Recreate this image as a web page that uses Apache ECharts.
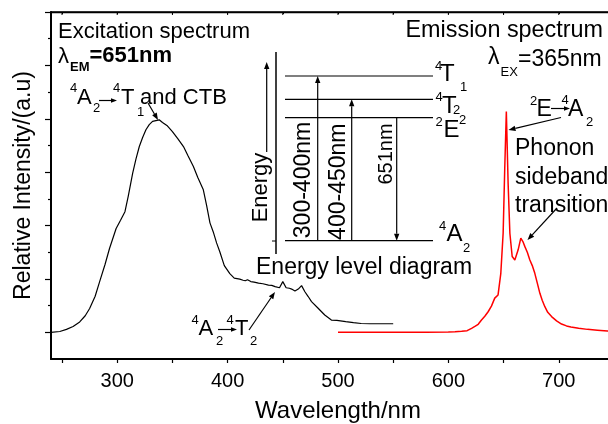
<!DOCTYPE html>
<html>
<head>
<meta charset="utf-8">
<script src="https://cdn.jsdelivr.net/npm/echarts@6/dist/echarts.min.js"></script>
<style>
html,body{margin:0;padding:0;background:#fff;}
#main{width:608px;height:424px;}
</style>
</head>
<body>
<div id="main"></div>
<script>
// excitation spectrum (lambda_EM = 651 nm)
var exWave = [240,248,254,260,266,271,275,280,284,289,293,299,303,307,310,314,317,320,323,326,329,332,335,338,341,345,350,355,360,364,369,373,378,381,384,387,390,393,397,402,406,411,414,416,418,419,421,424,428,432,437,440,443,447,450,453,456,458,461,464,467,470,473,476,482,488,494,499,507,514,521,529,540,550];
var exInt  = [1.00,1.03,1.11,1.22,1.39,1.62,1.89,2.35,2.89,3.55,4.14,4.89,5.20,5.52,6.10,6.96,7.50,7.96,8.30,8.59,8.78,8.90,8.93,8.96,8.86,8.75,8.52,8.25,7.96,7.62,7.21,6.80,6.34,5.75,5.10,4.76,4.35,4.01,3.50,3.20,3.03,2.99,2.95,2.93,2.97,3.02,2.90,2.88,2.84,2.82,2.77,2.76,2.71,2.67,2.90,2.67,2.65,2.62,2.55,2.62,2.75,2.52,2.34,2.15,1.90,1.65,1.46,1.45,1.40,1.36,1.33,1.32,1.32,1.32];

// emission spectrum (lambda_EX = 365 nm)
var emWave = [500,520,540,560,580,600,606,612,617,621,624,627,630,633,636,639,642,645,647.5,649.6,651.1,652.5,654.1,655.7,657.8,660.2,663.2,665.6,667.5,669.3,671.5,673.8,676,678.3,680.5,682.9,685,687.4,690,693.5,698,702.5,707,711,718,726,735,744,760];
var emInt  = [1.00,1.00,1.00,1.00,1.00,1.01,1.02,1.04,1.06,1.15,1.22,1.30,1.46,1.60,1.77,1.98,2.28,2.40,3.21,4.71,7.21,9.27,6.59,4.71,3.84,3.71,4.09,4.53,4.40,4.21,4.00,3.71,3.50,3.21,2.85,2.46,2.20,1.96,1.75,1.59,1.43,1.31,1.24,1.20,1.15,1.11,1.08,1.05,1.03];

var xTicks = [250,300,350,400,450,500,550,600,650,700,750];
var xLabels = [300,400,500,600,700];
var yMajor = [1,3,5,7,9,11,13];
var yMinor = [2,4,6,8,10,12];
var xMin = 240, xMax = 760, yMin = 0, yMax = 13;

var FONT = '"Liberation Sans", Arial, sans-serif';

function pairs(xs, ys) {
    var out = [];
    for (var i = 0; i < xs.length; i++) out.push([xs[i], ys[i]]);
    return out;
}

function txt(x, y, s, size, opt) {
    opt = opt || {};
    return {
        type: 'text',
        x: x, y: y,
        rotation: opt.rot || 0,
        silent: true,
        z: 100,
        style: {
            text: s,
            font: (opt.bold ? 'bold ' : '') + size + 'px ' + FONT,
            fill: opt.color || '#000',
            textAlign: opt.align || 'left',
            textVerticalAlign: 'middle'
        }
    };
}

// straight line with a filled head at (x2,y2)
function arrow(x1, y1, x2, y2, head, w) {
    head = head || 7;
    var dx = x2 - x1, dy = y2 - y1, len = Math.sqrt(dx * dx + dy * dy);
    var ux = dx / len, uy = dy / len;
    var bx = x2 - ux * head, by = y2 - uy * head;
    var hw = head * 0.38;
    return [{
        type: 'line', silent: true, z: 100,
        shape: {x1: x1, y1: y1, x2: bx, y2: by},
        style: {stroke: '#000', lineWidth: w || 1.2}
    }, {
        type: 'polygon', silent: true, z: 100,
        shape: {points: [[x2, y2], [bx - uy * hw, by + ux * hw], [bx + uy * hw, by - ux * hw]]},
        style: {fill: '#000'}
    }];
}

function seg(x1, y1, x2, y2, w) {
    return {type: 'line', silent: true, z: 100, shape: {x1: x1, y1: y1, x2: x2, y2: y2}, style: {stroke: '#000', lineWidth: w || 1.2}};
}
function hline(x1, x2, y, w) {
    return seg(x1, y, x2, y, w);
}

var g = [];
// left annotations
g.push(txt(58, 31.5, 'Excitation spectrum', 22));
g.push(txt(58, 57, 'λ', 22));
g.push(txt(70, 67, 'EM', 13, {bold: true}));
g.push(txt(89.5, 56, '=651nm', 22, {bold: true}));

g.push(txt(70, 88, '4', 13));
g.push(txt(77, 98, 'A', 22));
g.push(txt(93, 108.5, '2', 13));
g = g.concat(arrow(99, 100.5, 117, 100.5, 6, 1.2));
g.push(txt(113, 88, '4', 13));
g.push(txt(121, 98, 'T', 22));
g.push(txt(137, 112, '1', 13));
g.push(txt(140, 98, 'and CTB', 22));
g = g.concat(arrow(148, 103, 158, 120, 7));

g.push(txt(191.5, 320, '4', 13));
g.push(txt(198.5, 329, 'A', 22));
g.push(txt(216, 341, '2', 13));
g = g.concat(arrow(218, 329.5, 237, 329.5, 6, 1.2));
g.push(txt(226.5, 320, '4', 13));
g.push(txt(235, 329, 'T', 22));
g.push(txt(250, 341, '2', 13));
g = g.concat(arrow(249, 330, 275, 292, 7));

// energy level diagram
g.push(seg(276, 52, 276, 254, 1.5));
g.push(hline(272, 276, 241, 1));
g = g.concat(arrow(266.7, 152, 266.7, 62, 7));
g.push(txt(261, 187.5, 'Energy', 22, {rot: Math.PI / 2, align: 'center'}));
g.push(hline(285, 433, 76));
g.push(hline(285, 433, 99.3));
g.push(hline(285, 433, 117.7));
g.push(hline(285, 433, 240.7));
g = g.concat(arrow(317.7, 240.7, 317.7, 76, 7));
g = g.concat(arrow(351.7, 240.7, 351.7, 99.3, 7));
g = g.concat(arrow(396.7, 117.7, 396.7, 240.7, 7));
g.push(txt(304, 180, '300-400nm', 23, {rot: Math.PI / 2, align: 'center'}));
g.push(txt(338.7, 181.7, '400-450nm', 23, {rot: Math.PI / 2, align: 'center'}));
g.push(txt(386, 154, '651nm', 20, {rot: Math.PI / 2, align: 'center'}));

g.push(txt(435, 66, '4', 13));
g.push(txt(440, 74, 'T', 24));
g.push(txt(460, 87.5, '1', 13));
g.push(txt(435.5, 97.5, '4', 13));
g.push(txt(442, 106, 'T', 24));
g.push(txt(453, 110, '2', 13));
g.push(txt(435.5, 122.5, '2', 13));
g.push(txt(443.5, 130, 'E', 24));
g.push(txt(459, 120, '2', 13));
g.push(txt(439, 226, '4', 13));
g.push(txt(446.5, 234.5, 'A', 24));
g.push(txt(463, 248, '2', 13));
g.push(txt(256, 268, 'Energy level diagram', 23));

// right annotations
g.push(txt(405.5, 30.5, 'Emission spectrum', 23.4));
g.push(txt(488, 58, 'λ', 23));
g.push(txt(500.5, 72, 'EX', 13));
g.push(txt(518, 59.5, '=365nm', 23));

g.push(txt(530, 101, '2', 13));
g.push(txt(536.5, 110, 'E', 23));
g = g.concat(arrow(551, 108.5, 570, 108.5, 6, 1.2));
g.push(txt(561.5, 100, '4', 13));
g.push(txt(568, 110, 'A', 23));
g.push(txt(586, 122.5, '2', 13));
g = g.concat(arrow(561, 117.5, 508.5, 130, 7));
g.push(txt(515, 149, 'Phonon', 23));
g.push(txt(515, 177.5, 'sideband', 23));
g.push(txt(515, 206, 'transition', 23));
g = g.concat(arrow(557, 208, 527.5, 240, 7));

// top frame of the plot box on its own layer (grid top = 12, left = 51, 574 px for 520 nm)
var GL = 51, GT = 12.5, GW = 574;
var frame = [seg(GL - 1, GT, 608, GT, 1.5)];
xTicks.forEach(function (v) {
    var px = GL + (v - xMin) / (xMax - xMin) * GW;
    frame.push(seg(px, GT, px, GT + 2.5, 1));
});
frame.forEach(function (el) { el.zlevel = 10; el.z = 200; });
g = g.concat(frame);

var myChart = echarts.init(document.getElementById('main'), null, {renderer: 'canvas'});
myChart.setOption({
    animation: false,
    grid: {left: 51, right: -17, top: 12, bottom: 65, outerBoundsMode: 'none'},
    xAxis: [{
        type: 'value', min: xMin, max: xMax, position: 'bottom',
        name: 'Wavelength/nm', nameLocation: 'middle', nameGap: 40,
        nameTextStyle: {fontFamily: FONT, fontSize: 24, color: '#000'},
        axisLine: {lineStyle: {color: '#000', width: 2}},
        axisTick: {show: true, inside: false, length: 4, customValues: xTicks, lineStyle: {color: '#000', width: 1.2}},
        axisLabel: {customValues: xLabels, margin: 12, fontFamily: FONT, fontSize: 20, color: '#000'},
        splitLine: {show: false}
    }, {
        type: 'value', min: xMin, max: xMax, position: 'top', splitNumber: 10,
        axisLine: {show: true, onZero: false, lineStyle: {color: '#000', width: 1.5}},
        axisTick: {show: true, inside: true, length: 2, lineStyle: {color: '#000', width: 1}},
        axisLabel: {show: false},
        splitLine: {show: false}
    }],
    yAxis: [{
        type: 'value', min: yMin, max: yMax, position: 'left',
        name: 'Relative Intensity/(a.u)', nameLocation: 'middle', nameGap: 16,
        nameTextStyle: {fontFamily: FONT, fontSize: 23, color: '#000'},
        axisLine: {onZero: false, lineStyle: {color: '#000', width: 2}},
        axisTick: {show: true, inside: false, length: 6, customValues: yMajor, lineStyle: {color: '#000', width: 1.2}},
        axisLabel: {show: false},
        splitLine: {show: false}
    }, {
        type: 'value', min: yMin, max: yMax, position: 'left',
        axisLine: {show: false},
        axisTick: {show: true, inside: false, length: 3, customValues: yMinor, lineStyle: {color: '#000', width: 1.2}},
        axisLabel: {show: false},
        splitLine: {show: false}
    }],
    series: [{
        name: 'Excitation', type: 'line', showSymbol: false,
        data: pairs(exWave, exInt),
        lineStyle: {color: '#000', width: 1.2}
    }, {
        name: 'Emission', type: 'line', showSymbol: false,
        data: pairs(emWave, emInt),
        lineStyle: {color: '#ff0000', width: 1.5}
    }],
    graphic: g
});
</script>
</body>
</html>
